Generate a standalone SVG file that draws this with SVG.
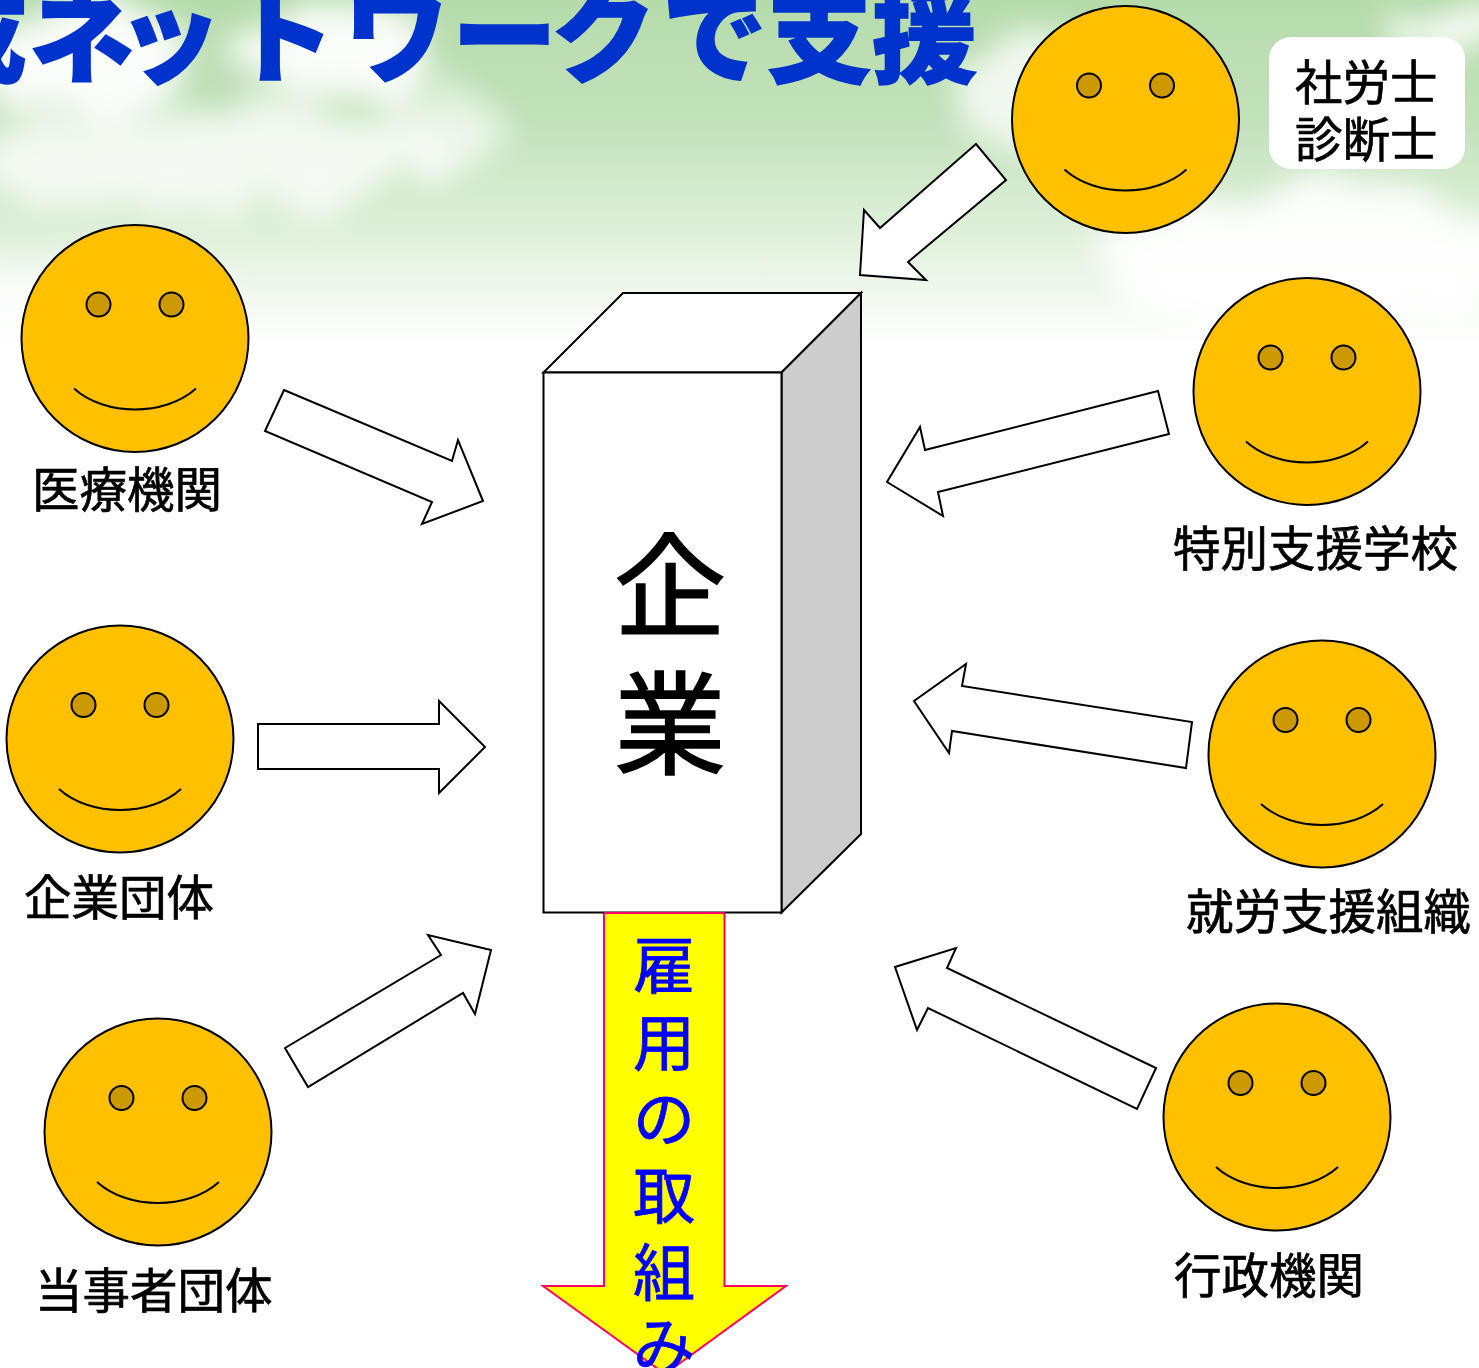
<svg xmlns="http://www.w3.org/2000/svg" width="1479" height="1368" viewBox="0 0 1479 1368">
<defs>
<linearGradient id="sky" x1="0" y1="0" x2="0" y2="1"><stop offset="0" stop-color="#b5dbab"/><stop offset="0.35" stop-color="#c2e2bb"/><stop offset="0.65" stop-color="#ddefd8"/><stop offset="1" stop-color="#ffffff"/></linearGradient>
<filter id="cloud" x="-30%" y="-30%" width="160%" height="160%"><feTurbulence type="fractalNoise" baseFrequency="0.014 0.024" numOctaves="4" seed="7" result="n"/><feDisplacementMap in="SourceGraphic" in2="n" scale="70" xChannelSelector="R" yChannelSelector="G"/><feGaussianBlur stdDeviation="15"/></filter>
<g id="face"><circle r="113.500" class="skin"/><circle cx="-36.500" cy="-34" r="12" class="eye"/><circle cx="36.500" cy="-34" r="12" class="eye"/><path d="M-61 50C-30 78 30 78 61 50" class="smile"/></g>
</defs>
<style>
.skin{fill:#ffc000;stroke:#000;stroke-width:2}
.eye{fill:#cc9a00;stroke:#000;stroke-width:2}
.smile{fill:none;stroke:#000;stroke-width:2}
.arrow{fill:#fff;stroke:#000;stroke-width:2;stroke-linejoin:miter}
text{font-family:"Noto Sans CJK JP","Liberation Sans",sans-serif}
.label{font-size:47.500px;fill:#000;stroke:#000;stroke-width:.7}
</style>
<rect width="1479" height="1368" fill="#fff"/>
<rect width="1479" height="345" fill="url(#sky)"/>
<g id="clouds" fill="#fff" filter="url(#cloud)" opacity="0.92">
<ellipse cx="80" cy="60" rx="110" ry="55"/>
<ellipse cx="330" cy="55" rx="100" ry="45"/>
<ellipse cx="210" cy="160" rx="240" ry="50" opacity="0.85"/>
<ellipse cx="440" cy="130" rx="70" ry="40" opacity="0.7"/>
<ellipse cx="1030" cy="95" rx="80" ry="55" opacity="0.85"/>
<ellipse cx="1450" cy="30" rx="55" ry="25"/>
<ellipse cx="1320" cy="260" rx="220" ry="75"/>
<ellipse cx="60" cy="300" rx="160" ry="40" opacity="0.7"/>
</g>
<text id="title" y="74" font-size="105" font-weight="900" fill="#0033cc" stroke="#0033cc" stroke-width="1.500" x="-78 29 117 230 344 452 551 662 767 872">成ネットワークで支援</text>
<g id="note"><rect x="1269" y="37" width="196" height="132" rx="22" fill="#fff"/><text class="label" x="1295" y="100">社労士</text><text class="label" x="1295" y="157">診断士</text></g>
<g id="connectors">
<polygon class="arrow" points="976,144 880,228 864,210 860,275 926,280 908,262 1006,180"/>
<polygon class="arrow" points="284,390 452,461 458,440 483,501 422,524 432,502 265,431"/>
<polygon class="arrow" points="258,724 439,724 439,701 485,747 439,793 439,769 258,769"/>
<polygon class="arrow" points="285,1048 441,955 428,935 491,950 475,1014 463,993 308,1087"/>
<polygon class="arrow" points="1158,391 1169,434 938,492 943,516 887,482 920,427 925,450"/>
<polygon class="arrow" points="1192,722 1186,768 952,731 949,753 914,701 966,664 962,686"/>
<polygon class="arrow" points="1156,1068 1137,1109 928,1008 917,1030 895,967 956,948 947,968"/>
<polygon id="hire-arrow" fill="#ffff00" stroke="#ff0066" stroke-width="2" points="604,913 724.500,913 724.500,1286 786,1286 665,1374 543,1286 604,1286"/>
</g>
<g id="company">
<polygon points="543.500,372.500 623,293 861,293 781.500,372.500" fill="#fff" stroke="#000" stroke-width="2"/>
<polygon points="781.500,372.500 861,293 861,834 781.500,912.500" fill="#cdcdcd" stroke="#000" stroke-width="2"/>
<rect x="543.500" y="372.500" width="238" height="540" fill="#fff" stroke="#000" stroke-width="2"/>
<text x="670" y="628" font-size="112" text-anchor="middle" stroke="#000" stroke-width="1.500">企</text>
<text x="670" y="766" font-size="112" text-anchor="middle" stroke="#000" stroke-width="1.500">業</text>
</g>
<line x1="604" y1="913" x2="724.500" y2="913" stroke="#ff0066" stroke-width="2"/>
<text id="hire-label" font-size="62" fill="#0000ff" stroke="#0000ff" stroke-width=".8" text-anchor="middle"><tspan x="664" y="989">雇</tspan><tspan x="664" y="1066">用</tspan><tspan x="664" y="1142">の</tspan><tspan x="664" y="1219">取</tspan><tspan x="664" y="1296">組</tspan><tspan x="664" y="1369">み</tspan></text>
<g id="shi"><use href="#face" x="1125.500" y="119.500"/></g>
<g id="iryo"><use href="#face" x="135" y="338.500"/><text class="label" x="32" y="507">医療機関</text></g>
<g id="kigyodantai"><use href="#face" x="120" y="739"/><text class="label" x="24" y="915">企業団体</text></g>
<g id="tojisha"><use href="#face" x="158" y="1132"/><text class="label" x="35" y="1308">当事者団体</text></g>
<g id="tokubetsu"><use href="#face" x="1307" y="391.500"/><text class="label" x="1173" y="566">特別支援学校</text></g>
<g id="shuro"><use href="#face" x="1322" y="754"/><text class="label" x="1186" y="929">就労支援組織</text></g>
<g id="gyosei"><use href="#face" x="1277" y="1117"/><text class="label" x="1174" y="1293">行政機関</text></g>
</svg>
